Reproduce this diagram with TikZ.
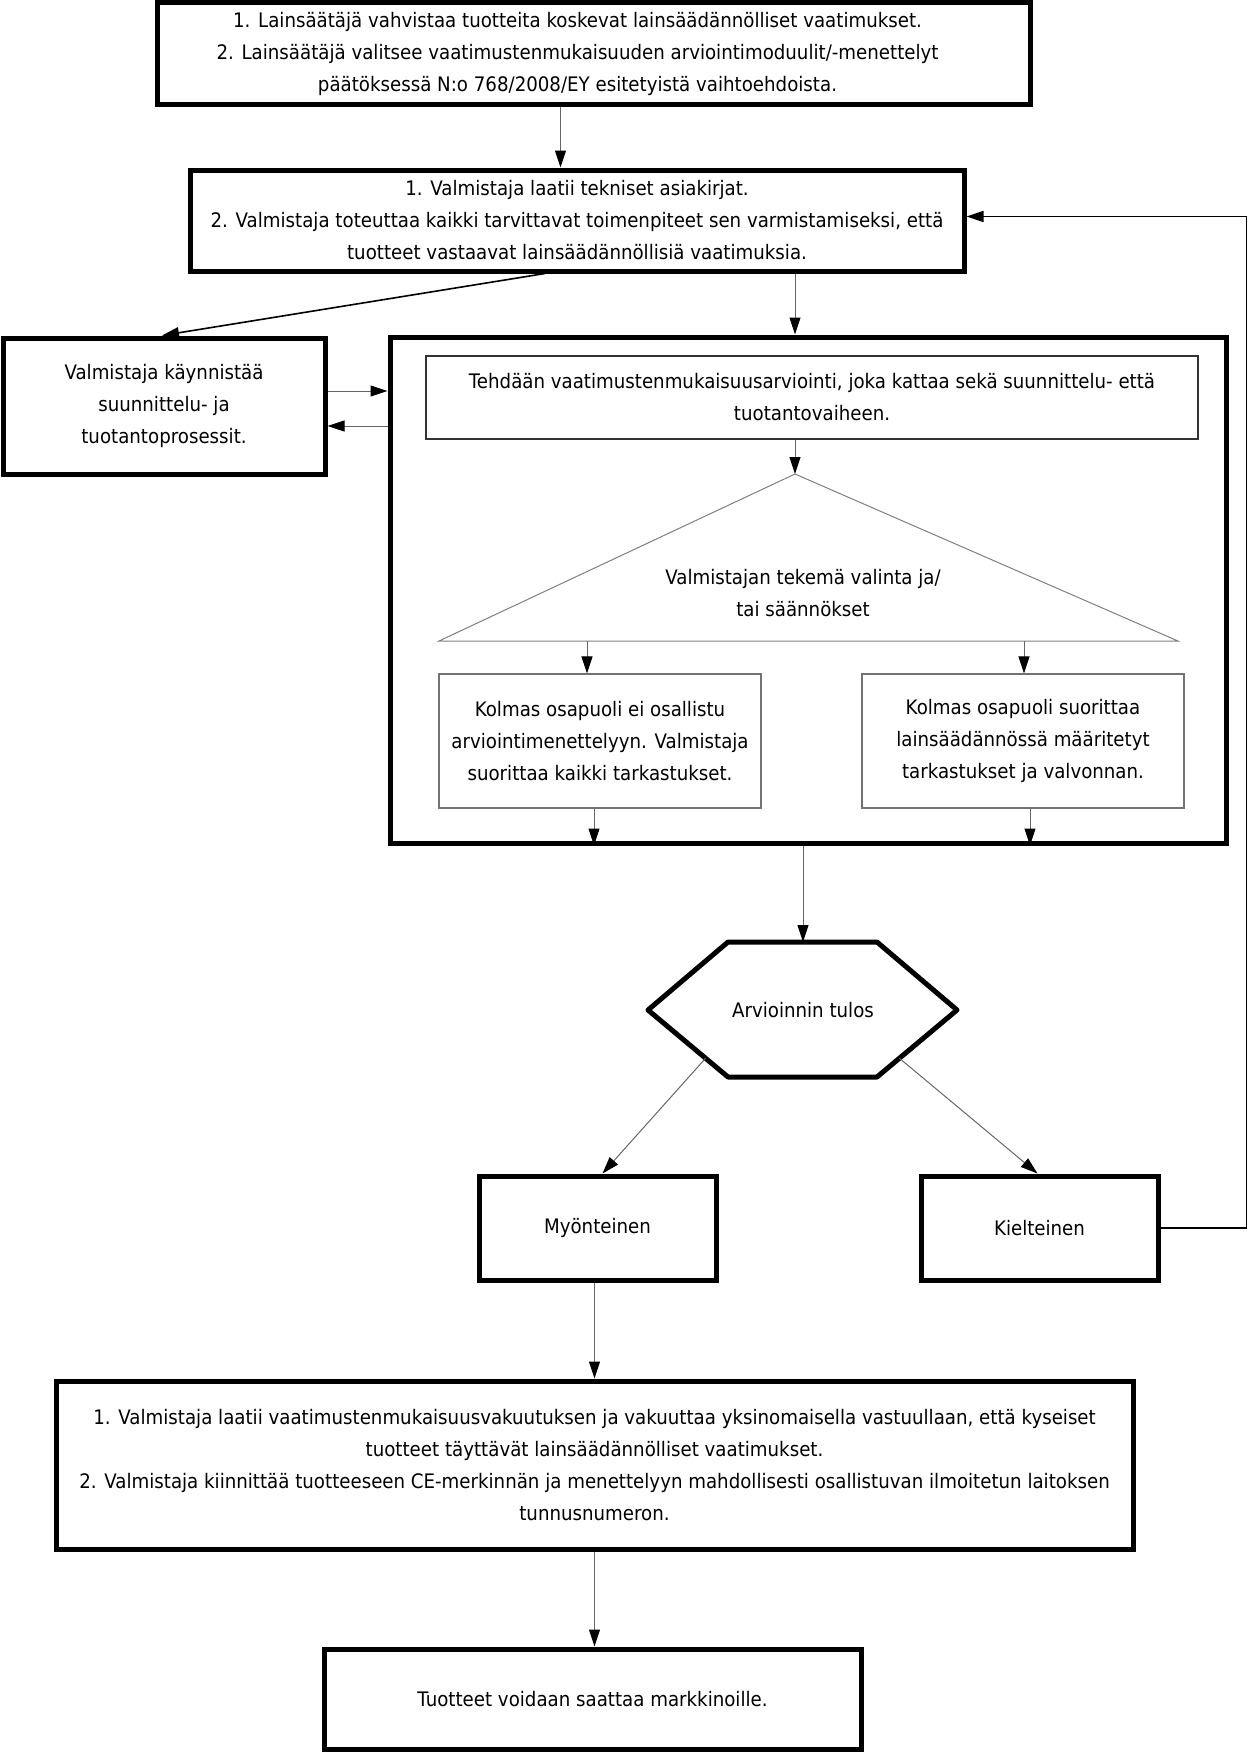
\documentclass[tikz,border=0pt]{standalone}
\usepackage{fontspec}
\setmainfont{DejaVu Sans}[FakeStretch=0.91]
\usetikzlibrary{arrows.meta,calc}
\begin{document}
\begin{tikzpicture}[x=1pt,y=-1pt,
  every node/.style={font=\fontsize{20}{32}\selectfont, align=center, inner sep=0pt},
  thickbox/.style={draw=black, line width=5pt, fill=white},
  thinbox/.style={draw=black!55, line width=1.2pt},
  midbox/.style={draw=black!80, line width=2pt},
  arr/.style={draw=black!60, line width=1pt, -{Triangle[length=17pt,width=11pt,color=black]}},
  arrblack/.style={draw=black, line width=1.6pt, -{Triangle[length=17pt,width=11pt,color=black]}}]
\useasboundingbox (0,0) rectangle (1260,1753);

% boxes
\node[thickbox, minimum width=873, minimum height=101] (box1) at (593.5,53.5) {};
\node (box1t) at ($(box1.center)+(-16,0)$)
 {1. Lainsäätäjä vahvistaa tuotteita koskevat lainsäädännölliset vaatimukset.\\
  2. Lainsäätäjä valitsee vaatimustenmukaisuuden arviointimoduulit/-menettelyt\\
  päätöksessä N:o 768/2008/EY esitetyistä vaihtoehdoista.};
\node[thickbox, minimum width=774, minimum height=101] (box2) at (577,220.5)
 {1. Valmistaja laatii tekniset asiakirjat.\\
  2. Valmistaja toteuttaa kaikki tarvittavat toimenpiteet sen varmistamiseksi, että\\
  tuotteet vastaavat lainsäädännöllisiä vaatimuksia.};
\node[thickbox, minimum width=322, minimum height=136] (leftb) at (164,406)
 {Valmistaja käynnistää\\ suunnittelu- ja\\ tuotantoprosessit.};
\node[thickbox, minimum width=836, minimum height=506] (cont) at (808,590) {};
\node[midbox, minimum width=772, minimum height=83] (inner) at (812,397.5)
 {Tehdään vaatimustenmukaisuusarviointi, joka kattaa sekä suunnittelu- että\\ tuotantovaiheen.};

% triangle
\coordinate (tA) at (795,474);
\coordinate (tL) at (439,641);
\coordinate (tR) at (1178,641);
\draw[draw=black!50, line width=1pt] (tA) -- (tR) -- (tL) -- cycle;
\node (tri) at (803,593) {Valmistajan tekemä valinta ja/\\ tai säännökset};

\node[thinbox, minimum width=322, minimum height=134] (subL) at (600,741)
 {Kolmas osapuoli ei osallistu\\ arviointimenettelyyn. Valmistaja\\ suorittaa kaikki tarkastukset.};
\node[thinbox, minimum width=322, minimum height=134] (subR) at (1023,741)
 {Kolmas osapuoli suorittaa\\ lainsäädännössä määritetyt\\ tarkastukset ja valvonnan.};

% hexagon
\coordinate (hTL) at (728,942);
\coordinate (hTR) at (877,942);
\coordinate (hR) at (957,1010);
\coordinate (hBR) at (877,1077);
\coordinate (hBL) at (728,1077);
\coordinate (hL) at (648,1010);
\coordinate (hT) at (803,942);
\draw[line width=5pt, line join=round] (hTL) -- (hTR) -- (hR) -- (hBR) -- (hBL) -- (hL) -- cycle;
\node (hex) at (803,1010) {Arvioinnin tulos};

\node[thickbox, minimum width=237, minimum height=104] (myo) at (597.5,1228) {Myönteinen};
\node[thickbox, minimum width=237, minimum height=104] (kiel) at (1039.5,1228) {Kielteinen};

\node[thickbox, minimum width=1077, minimum height=168] (bot) at (594.5,1465)
 {1. Valmistaja laatii vaatimustenmukaisuusvakuutuksen ja vakuuttaa yksinomaisella vastuullaan, että kyseiset\\
  tuotteet täyttävät lainsäädännölliset vaatimukset.\\
  2. Valmistaja kiinnittää tuotteeseen CE-merkinnän ja menettelyyn mahdollisesti osallistuvan ilmoitetun laitoksen\\
  tunnusnumeron.};
\node[thickbox, minimum width=537, minimum height=100] (fin) at (592.5,1699)
 {Tuotteet voidaan saattaa markkinoille.};

% connectors
\coordinate (c1) at ($(box1.south)+(-33,0)$);
\draw[arr] (c1) -- (c1 |- box2.north);
\draw[arrblack] ($(box2.south)+(-32,0)$) -- ($(leftb.north)+(-2,0)$);
\draw[arr] (box2.south -| tA) -- (cont.north -| tA);
\coordinate (la) at ($(leftb.east)+(0,-15)$);
\coordinate (lb) at ($(leftb.east)+(0,20)$);
\draw[arr] (la) -- (la -| cont.west);
\draw[arr] (lb -| cont.west) -- (lb);
\draw[arr] (inner.south -| tA) -- (tA);
\coordinate (b1) at ($(subL.north)+(-13,0)$);
\coordinate (b2) at ($(subR.north)+(1,0)$);
\draw[arr] (b1 |- tL) -- (b1);
\draw[arr] (b2 |- tR) -- (b2);
\coordinate (s1) at ($(subL.south)+(-6,0)$);
\coordinate (s2) at ($(subR.south)+(7,0)$);
\draw[arr] (s1) -- (s1 |- cont.south);
\draw[arr] (s2) -- (s2 |- cont.south);
\draw[arr] (cont.south -| hT) -- (hT);
\draw[arr] ($(hL)!0.72!(hBL)$) -- ($(myo.north)+(5,0)$);
\draw[arr] ($(hR)!0.72!(hBR)$) -- ($(kiel.north)+(-2,0)$);
\draw[arrblack] (kiel.east) -- ++(86,0) |- ($(box2.east)+(0,-4)$);
\draw[arr] ($(myo.south)+(-3,0)$) -- ($(myo.south |- bot.north)+(-3,0)$);
\draw[arr] ($(bot.south -| myo.south)+(-3,0)$) -- ($(myo.south |- fin.north)+(-3,0)$);
\end{tikzpicture}
\end{document}
